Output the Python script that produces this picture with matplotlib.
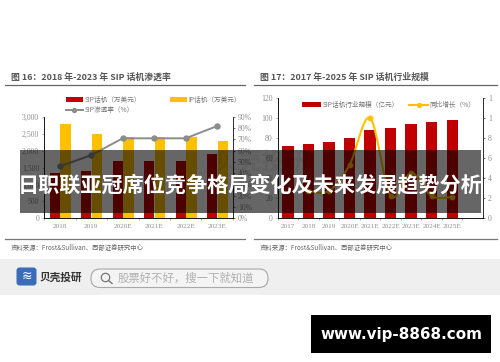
"""Two broker-report bar charts under a headline band, with search bar and url box."""
import matplotlib
matplotlib.use("Agg")
import matplotlib.pyplot as plt
from matplotlib.patches import FancyBboxPatch, PathPatch, Rectangle, Circle
from matplotlib.path import Path
from matplotlib.lines import Line2D

plt.rcParams["font.family"] = ["Noto Sans CJK SC", "DejaVu Sans"]

W, H = 500, 362

years_a = ["2018", "2019", "2020E", "2021E", "2022E", "2023E"]
sip_phone = [1350, 1400, 1700, 1700, 1700, 1900]
ip_phone = [2800, 2500, 2400, 2400, 2400, 2300]
sip_rate = [46, 56, 71, 71, 71, 82]
left_ticks_a = [0, 500, 1000, 1500, 2000, 2500, 3000]
right_ticks_a = [0, 10, 20, 30, 40, 50, 60, 70, 80, 90]

years_b = ["2017", "2018", "2019", "2020E", "2021E", "2022E", "2023E", "2024E", "2025E"]
market_size = [72, 74, 76, 80, 88, 90, 94, 96, 98]
growth_years = [1, 2, 3, 4, 5, 6, 7, 8]
growth = [0.27, 0.27, 0.53, 1.0, 0.22, 0.45, 0.22, 0.21]
left_ticks_b = [0, 20, 40, 60, 80, 100, 120]
right_ticks_b = [0, 0.2, 0.4, 0.6, 0.8, 1.0, 1.2]
right_labels_b = ["0", "2", "4", "6", "8", "1", "1"]

RED = "#c00000"
YELLOW = "#ffc000"
GREY = "#8c8c8c"
TICK = "#909090"
SERIF = "Liberation Serif"
CJK = ["Noto Sans CJK SC", "DejaVu Sans"]


def px_axes(fig, x0, y0, x1, y1):
    # pixel box, y measured from the top of the image
    return fig.add_axes([x0 / W, 1 - y1 / H, (x1 - x0) / W, (y1 - y0) / H])


def smooth_path(xs, ys):
    # bezier through the points, same look as an Excel smoothed line
    verts = [(xs[0], ys[0])]
    codes = [Path.MOVETO]
    n = len(xs)
    for i in range(n - 1):
        p0 = i - 1 if i > 0 else i
        p3 = i + 2 if i + 2 < n else i + 1
        verts.append((xs[i] + (xs[i + 1] - xs[p0]) / 6, ys[i] + (ys[i + 1] - ys[p0]) / 6))
        verts.append((xs[i + 1] - (xs[p3] - xs[i]) / 6, ys[i + 1] - (ys[p3] - ys[i]) / 6))
        verts.append((xs[i + 1], ys[i + 1]))
        codes += [Path.CURVE4] * 3
    return Path(verts, codes)


def style_axes(ax, ax2, slots, labels):
    # slots can be more than the labels, the right chart leaves one empty
    ax.set_xlim(-0.5, slots - 0.5)
    ax.set_xticks([i - 0.5 for i in range(len(labels) + 1)])
    ax.set_xticklabels([])
    ax.set_xticks(range(len(labels)), labels, minor=True, fontsize=5.2, family=SERIF, color=TICK)
    ax.tick_params(axis="x", which="minor", length=0, pad=4)
    ax.tick_params(axis="x", which="major", length=1.5, color=TICK, width=0.5)
    ax.tick_params(axis="y", length=1.5, color=TICK, width=0.5, labelsize=5.6, labelcolor=TICK, pad=2)
    ax2.tick_params(axis="y", length=1.5, color="#333333", width=0.5, labelsize=5.6, labelcolor=TICK, pad=2)
    for label in ax.get_yticklabels() + ax2.get_yticklabels():
        label.set_family(SERIF)
    ax.spines["top"].set_visible(False)
    ax2.spines["top"].set_visible(False)
    ax.spines["left"].set_color("#a0a0a0")
    ax.spines["bottom"].set_color("#a0a0a0")
    ax2.spines["right"].set_color("#333333")
    for s in ("left", "bottom", "right"):
        ax.spines[s].set_linewidth(0.6)
        ax2.spines[s].set_linewidth(0.6)


fig = plt.figure(figsize=(W / 100, H / 100), dpi=100, facecolor="white")

# left chart
ax = px_axes(fig, 44, 117, 233, 218)
pos = list(range(len(years_a)))
ax.bar([p - 0.16 for p in pos], sip_phone, width=0.32, color=RED, label="SIP话机（万美元）")
ax.bar([p + 0.18 for p in pos], ip_phone, width=0.34, color=YELLOW, label="IP话机（万美元）")
ax.set_ylim(0, 3000)
ax.set_yticks(left_ticks_a, [f"{v:,}" for v in left_ticks_a])
ax2 = ax.twinx()
ax2.plot(pos, sip_rate, "-o", color=GREY, lw=1.4, ms=3.6)
ax2.set_ylim(0, 90)
ax2.set_yticks(right_ticks_a, [f"{v}%" for v in right_ticks_a])
style_axes(ax, ax2, len(years_a), years_a)
handles, labels = ax.get_legend_handles_labels()
handles.insert(1, Line2D([], [], color=GREY, marker="o", lw=1.4, ms=2.8))
labels.insert(1, "SIP渗透率（%）")
ax.legend(handles, labels, ncol=2, loc="lower left", bbox_to_anchor=(0.115, 1.03), frameon=False,
          fontsize=4.8, labelcolor="#777777", handlelength=2.6, handletextpad=0.2,
          columnspacing=4.4, labelspacing=0.3, borderpad=0, borderaxespad=0)

# right chart
bx = px_axes(fig, 277.7, 98, 483, 218)
pos_b = list(range(len(years_b)))
bx.bar(pos_b, market_size, width=0.55, color=RED, label="SIP话机行业规模（亿元）")
bx.set_ylim(0, 120)
bx.set_yticks(left_ticks_b, [str(v) for v in left_ticks_b])
bx2 = bx.twinx()
bx2.add_patch(PathPatch(smooth_path(growth_years, growth), fill=False, edgecolor=YELLOW, lw=1.5))
bx2.plot(growth_years, growth, "o", color=YELLOW, ms=3.2)
bx2.set_ylim(0, 1.2)
bx2.set_yticks(right_ticks_b, right_labels_b)
style_axes(bx, bx2, len(years_b) + 1, years_b)
handles, labels = bx.get_legend_handles_labels()
handles.append(Line2D([], [], color=YELLOW, marker="o", lw=1.5, ms=2.8))
labels.append("同比增长（%）")
bx2.legend(handles, labels, ncol=2, loc="upper left", bbox_to_anchor=(0.12, 0.975), frameon=False,
           fontsize=4.8, labelcolor="#777777", handlelength=2.8, handletextpad=0.2,
           columnspacing=1.6, borderpad=0, borderaxespad=0)

# everything around the charts, in image pixels
ov = fig.add_axes([0, 0, 1, 1], zorder=10)
ov.set_xlim(0, W)
ov.set_ylim(H, 0)
ov.axis("off")
ov.patch.set_alpha(0)

ov.text(11, 77, "图 16：2018 年-2023 年 SIP 话机渗透率", fontsize=6.4, fontweight="bold",
        color="#555555", va="center", family=CJK)
ov.text(260, 77, "图 17：2017 年-2025 年 SIP 话机行业规模", fontsize=6.4, fontweight="bold",
        color="#555555", va="center", family=CJK)
for x0, x1 in [(5, 245), (254, 497)]:
    ov.plot([x0, x1], [85, 85], color="#666666", lw=0.9)
    ov.plot([x0, x1], [239, 239], color="#777777", lw=0.9)
ov.text(11, 247.5, "资料来源：Frost&Sullivan、西部证券研究中心", fontsize=4.6, color="#666666",
        va="center", family=CJK)
ov.text(260, 247.5, "资料来源：Frost&Sullivan、西部证券研究中心", fontsize=4.6, color="#666666",
        va="center", family=CJK)

# faint watermark behind the band
ov.text(215, 162, "贝壳投研", fontsize=17, fontweight="bold", color="#000000", alpha=0.06,
        va="center", family=CJK)

# headline band
ov.add_patch(Rectangle((20, 150), 461, 63, color="#000000", alpha=0.6, lw=0))
ov.text(250.5, 185, "日职联亚冠席位竞争格局变化及未来发展趋势分析", fontsize=15.2, fontweight="bold",
        color="white", ha="center", va="center", family=CJK)

# search strip
ov.add_patch(Rectangle((0, 259), W, 36, color="#efefef", lw=0))
ov.add_patch(FancyBboxPatch((18, 269), 17, 15, boxstyle="round,pad=1.5,rounding_size=3",
                            facecolor="#3a6cb8", edgecolor="none"))
ov.text(26.5, 276.5, "≋", fontsize=9, color="white", ha="center", va="center", family=CJK)
ov.text(40, 277.5, "贝壳投研", fontsize=7.7, fontweight="bold", color="#333333", va="center", family=CJK)
ov.add_patch(FancyBboxPatch((91, 269), 177, 18.5, boxstyle="round,pad=0,rounding_size=9",
                            facecolor="#f4f4f4", edgecolor="#a8a8a8", lw=0.8))
ov.add_patch(Circle((105.5, 277.5), 4.2, fill=False, edgecolor="#777777", lw=0.9))
ov.plot([108.5, 112], [280.5, 283.5], color="#777777", lw=1)
ov.text(118, 278, "股票好不好，搜一下就知道", fontsize=8.2, color="#b0b0b0", va="center", family=CJK)

# url box
ov.add_patch(Rectangle((311, 315), 180, 38, color="black", lw=0))
ov.text(401, 334, "www.vip-8868.com", fontsize=10.9, fontweight="bold", color="white",
        ha="center", va="center", family="DejaVu Sans")

fig.savefig("out.png", dpi=100)
plt.close(fig)
